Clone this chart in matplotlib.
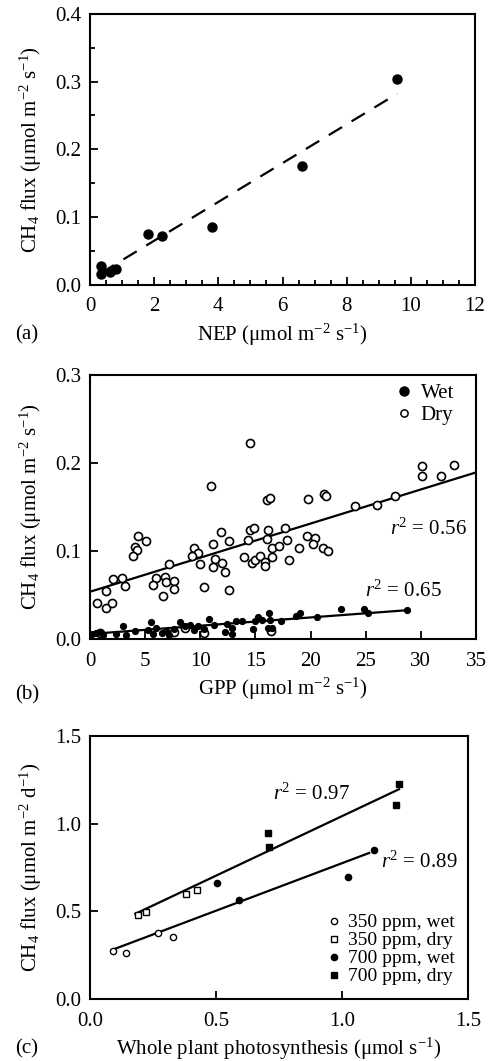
import matplotlib
matplotlib.use("Agg")
import matplotlib.pyplot as plt
from matplotlib.lines import Line2D
from matplotlib.ticker import MultipleLocator, FormatStrFormatter
import numpy as np

plt.rcParams['font.family'] = ['Liberation Serif', 'DejaVu Serif']
plt.rcParams['mathtext.fontset'] = 'custom'
plt.rcParams['mathtext.rm'] = 'Liberation Serif'
plt.rcParams['mathtext.it'] = 'Liberation Serif:italic'

# ---- panel (a): CH4 flux vs NEP
nep = [0.34, 0.33, 0.63, 0.81, 1.81, 2.23, 3.79, 6.62, 9.58]
ch4_nep = [0.028, 0.015, 0.018, 0.023, 0.074, 0.072, 0.085, 0.175, 0.304]
fit_a = (0.0287, 0.0073)        # slope, intercept
fit_a_range = (0.33, 9.58)

# ---- panel (b): CH4 flux vs GPP
gpp_dry = [14.54, 11.01, 16.08, 16.32, 19.73, 21.24, 21.42, 24.04, 26.06, 27.69,
           30.08, 30.08, 31.82, 33.03, 4.37, 5.07, 4.07, 4.25, 3.86, 7.18,
           5.94, 5.70, 6.76, 6.88, 7.66, 7.63, 6.64, 2.05, 2.93, 3.20,
           1.45, 0.66, 1.45, 1.96, 9.41, 9.80, 9.29, 9.95, 10.38, 11.13,
           11.92, 12.64, 11.31, 11.16, 12.01, 12.28, 12.61, 14.30, 14.54, 14.90,
           13.97, 14.69, 14.99, 15.38, 15.90, 15.84, 16.02, 16.17, 16.53, 16.53,
           17.16, 17.65, 17.89, 18.07, 18.91, 19.64, 20.39, 20.24, 21.09, 21.54,
           0.9, 7.6, 8.6, 10.3, 16.4]
ch4_dry = [0.2226, 0.174, 0.1575, 0.1598, 0.1594, 0.165, 0.162, 0.151, 0.152, 0.162,
           0.197, 0.1855, 0.1855, 0.198, 0.1176, 0.1113, 0.104, 0.1007, 0.0938, 0.0847,
           0.0693, 0.0609, 0.0708, 0.0647, 0.0662, 0.0566, 0.0490, 0.0678, 0.069, 0.0602,
           0.0548, 0.0414, 0.0352, 0.0414, 0.1034, 0.098, 0.0938, 0.0854, 0.0594, 0.1080,
           0.1214, 0.1111, 0.0908, 0.0813, 0.0866, 0.0763, 0.0556, 0.1126, 0.1241, 0.1260,
           0.0931, 0.0858, 0.0900, 0.0938, 0.0877, 0.0835, 0.1141, 0.1233, 0.1034, 0.0935,
           0.1061, 0.1264, 0.1126, 0.0900, 0.1030, 0.1168, 0.1145, 0.1084, 0.1034, 0.0996,
           0.007, 0.008, 0.012, 0.007, 0.009]
gpp_wet = [0.15, 0.5, 0.9, 1.2, 2.4, 3.0, 3.3, 4.1, 5.3, 5.5,
           5.7, 6.0, 6.5, 6.9, 7.2, 7.6, 8.2, 8.6, 9.1, 9.4,
           9.8, 10.3, 10.8, 11.2, 12.2, 12.45, 12.9, 12.9, 13.2, 13.8,
           14.75, 15.0, 15.2, 15.6, 16.2, 16.3, 16.1, 16.5, 17.3, 18.7,
           19.0, 20.55, 22.8, 24.8, 25.2, 28.7]
ch4_wet = [0.006, 0.007, 0.008, 0.004, 0.006, 0.015, 0.004, 0.009, 0.010, 0.019,
           0.006, 0.012, 0.007, 0.009, 0.004, 0.011, 0.019, 0.015, 0.016, 0.010,
           0.015, 0.011, 0.023, 0.016, 0.008, 0.017, 0.012, 0.006, 0.020, 0.020,
           0.011, 0.021, 0.025, 0.022, 0.030, 0.022, 0.013, 0.012, 0.021, 0.026,
           0.029, 0.025, 0.034, 0.034, 0.029, 0.033]
fit_dry = (0.003874, 0.0537)
fit_dry_range = (0.0, 35.0)
fit_wet = (0.00094, 0.0057)
fit_wet_range = (0.0, 28.7)

# ---- panel (c): CH4 flux vs whole plant photosynthesis
ps_350_wet = [0.091, 0.143, 0.268, 0.330]
ch4_350_wet = [0.275, 0.261, 0.376, 0.353]
ps_350_dry = [0.191, 0.222, 0.380, 0.426]
ch4_350_dry = [0.477, 0.494, 0.599, 0.624]
ps_700_wet = [0.504, 0.590, 1.022, 1.125]
ch4_700_wet = [0.660, 0.565, 0.694, 0.849]
ps_700_dry = [0.707, 0.711, 1.213, 1.228]
ch4_700_dry = [0.944, 0.866, 1.104, 1.224]
fit_c_wet = (0.542, 0.2325)
fit_c_wet_range = (0.095, 1.108)
fit_c_dry = (0.679, 0.3638)
fit_c_dry_range = (0.18, 1.226)

W, H = 492, 1061
fig = plt.figure(figsize=(W / 100, H / 100), dpi=100)


def px_axes(left, top, right, bottom):
    return fig.add_axes([left / W, 1 - bottom / H, (right - left) / W, (bottom - top) / H])


def style(ax):
    for s in ax.spines.values():
        s.set_linewidth(1.5)
    ax.tick_params(which='both', direction='in', top=False, right=False,
                   labelsize=15, width=1.3)
    ax.tick_params(axis='x', which='both', pad=9)
    ax.tick_params(axis='y', which='both', pad=6)
    ax.tick_params(which='major', length=6)
    ax.tick_params(which='minor', length=3.5)


def fit_line(ax, coef, rng, **kw):
    xs = np.array(rng)
    ax.plot(xs, coef[0] * xs + coef[1], color='black', **kw)


def flux_label(ax, unit):
    ax.set_ylabel(r'CH$_4$ flux (μmol m$^{-2}$ ' + unit + r'$^{-1}$)', fontsize=15, labelpad=8)


# (a)
ax1 = px_axes(90, 14, 475, 284.5)
style(ax1)
fit_line(ax1, fit_a, fit_a_range, lw=1.6, dashes=(7, 5))
ax1.plot(nep, ch4_nep, 'o', color='black', ms=6.5, ls='none')
ax1.set_xlim(0, 12)
ax1.set_ylim(0, 0.4)
ax1.xaxis.set_major_locator(MultipleLocator(2))
ax1.xaxis.set_minor_locator(MultipleLocator(0.5))
ax1.yaxis.set_major_locator(MultipleLocator(0.1))
ax1.yaxis.set_minor_locator(MultipleLocator(0.05))
ax1.yaxis.set_major_formatter(FormatStrFormatter('%.1f'))
ax1.set_xlabel(r'NEP (μmol m$^{-2}$ s$^{-1}$)', fontsize=15, labelpad=4)
flux_label(ax1, 's')

# (b)
ax2 = px_axes(90, 375, 476, 639)
style(ax2)
fit_line(ax2, fit_dry, fit_dry_range, lw=1.6)
fit_line(ax2, fit_wet, fit_wet_range, lw=1.6)
ax2.plot(gpp_dry, ch4_dry, 'o', mfc='white', mec='black', mew=1.2, ms=5.8, ls='none')
ax2.plot(gpp_wet, ch4_wet, 'o', color='black', ms=4.2, ls='none')
ax2.set_xlim(0, 35)
ax2.set_ylim(0, 0.3)
ax2.xaxis.set_major_locator(MultipleLocator(5))
ax2.yaxis.set_major_locator(MultipleLocator(0.1))
ax2.yaxis.set_major_formatter(FormatStrFormatter('%.1f'))
ax2.set_xlabel(r'GPP (μmol m$^{-2}$ s$^{-1}$)', fontsize=15, labelpad=4)
flux_label(ax2, 's')
leg_handles = [Line2D([], [], marker='o', color='black', ms=6.5, ls='none'),
               Line2D([], [], marker='o', mfc='white', mec='black', mew=1.1, ms=5.2, ls='none')]
ax2.legend(leg_handles, ['Wet', 'Dry'], loc='upper right', bbox_to_anchor=(0.965, 0.998),
           frameon=False, fontsize=15, handletextpad=0.3, handlelength=1.0,
           labelspacing=0.1, borderaxespad=0.0)
ax2.text(27.2, 0.125, r'$r^2$ = 0.56', fontsize=15, va='center')
ax2.text(24.9, 0.054, r'$r^2$ = 0.65', fontsize=15, va='center')

# (c)
ax3 = px_axes(90, 736, 468, 999)
style(ax3)
fit_line(ax3, fit_c_wet, fit_c_wet_range, lw=1.6)
fit_line(ax3, fit_c_dry, fit_c_dry_range, lw=1.6)
ax3.plot(ps_350_wet, ch4_350_wet, 'o', mfc='white', mec='black', mew=1.0, ms=4.5, ls='none', label='350 ppm, wet')
ax3.plot(ps_350_dry, ch4_350_dry, 's', mfc='white', mec='black', mew=1.0, ms=4.5, ls='none', label='350 ppm, dry')
ax3.plot(ps_700_wet, ch4_700_wet, 'o', color='black', ms=4.5, ls='none', label='700 ppm, wet')
ax3.plot(ps_700_dry, ch4_700_dry, 's', color='black', ms=4.5, ls='none', label='700 ppm, dry')
ax3.set_xlim(0, 1.5)
ax3.set_ylim(0, 1.5)
ax3.xaxis.set_major_locator(MultipleLocator(0.5))
ax3.yaxis.set_major_locator(MultipleLocator(0.5))
ax3.xaxis.set_major_formatter(FormatStrFormatter('%.1f'))
ax3.yaxis.set_major_formatter(FormatStrFormatter('%.1f'))
ax3.set_xlabel(r'Whole plant photosynthesis (μmol s$^{-1}$)', fontsize=15, labelpad=4)
flux_label(ax3, 'd')
ax3.legend(loc='lower right', frameon=False, fontsize=14, handletextpad=0.2,
           handlelength=1.0, labelspacing=0.02, borderaxespad=0.3)
ax3.text(0.726, 1.167, r'$r^2$ = 0.97', fontsize=15, va='center')
ax3.text(1.153, 0.778, r'$r^2$ = 0.89', fontsize=15, va='center')

# panel letters
for lab, y in [('(a)', 335), ('(b)', 695), ('(c)', 1049)]:
    fig.text(15 / W, 1 - y / H, lab, fontsize=15, va='center', ha='left')

fig.savefig('out.png', dpi=100)
